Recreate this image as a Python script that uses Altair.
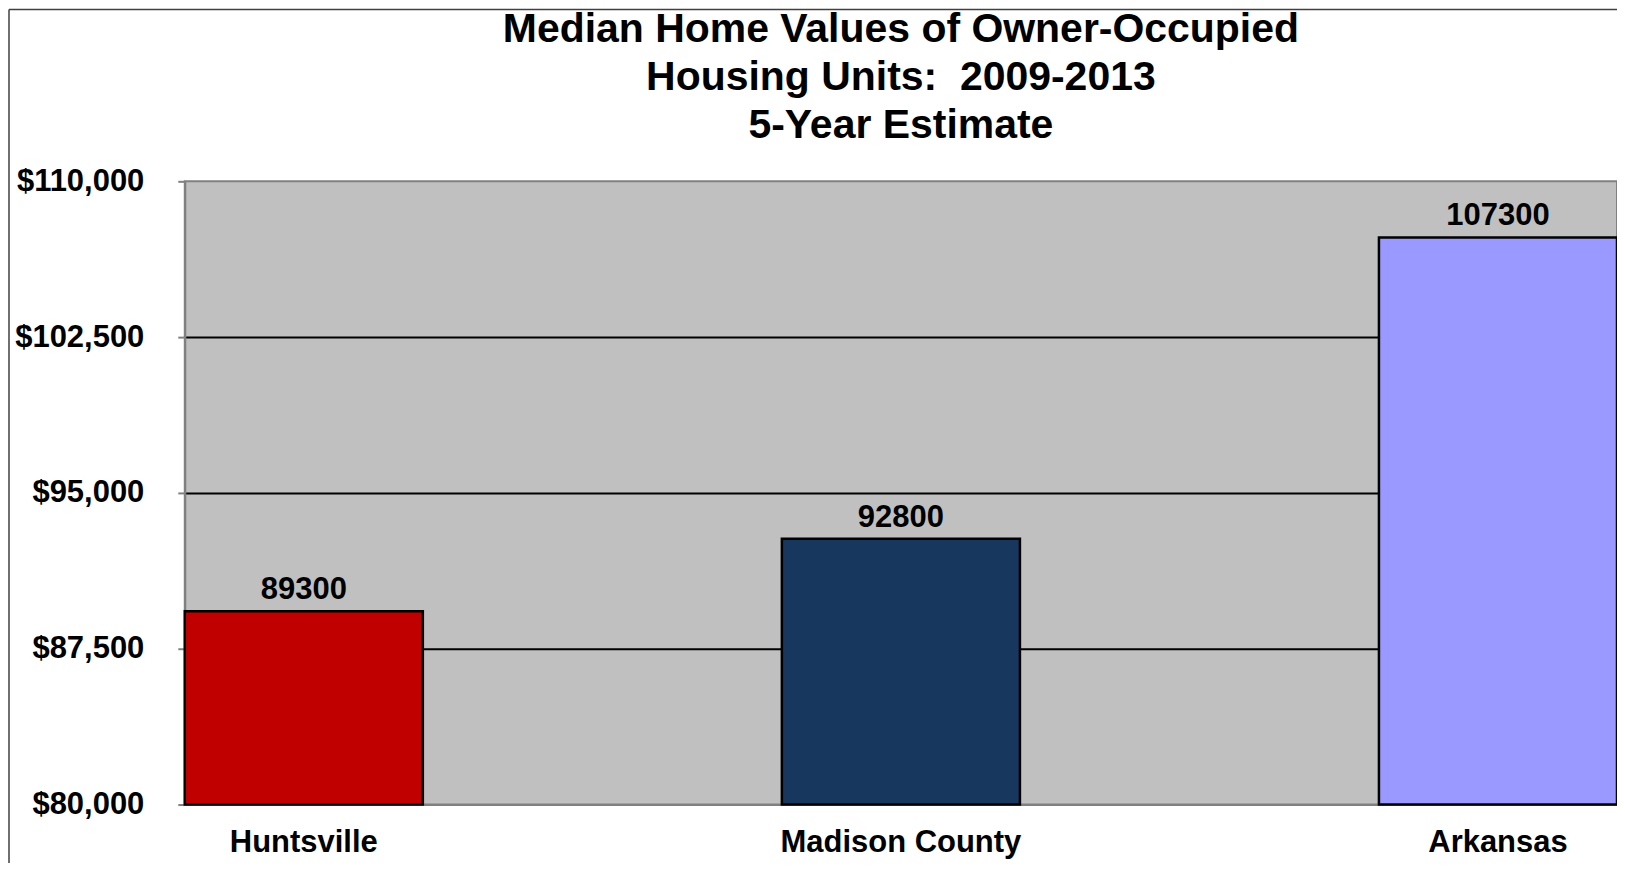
import altair as alt
import pandas as pd

categories = ["Huntsville", "Madison County", "Arkansas"]
values = [89300, 92800, 107300]
colors = ["#C00000", "#17375E", "#9999FF"]
y_ticks = [80000, 87500, 95000, 102500, 110000]
title_lines = ["Median Home Values of Owner-Occupied", "Housing Units:\u00a0 2009-2013", "5-Year Estimate"]

df = pd.DataFrame({"name": categories, "value": values})

FONT = "Liberation Sans"
W, H = 1434, 624

x_enc = alt.X(
    "name:N",
    sort=categories,
    scale=alt.Scale(paddingInner=0.6013, paddingOuter=0),
    axis=alt.Axis(
        title=None, labelAngle=0, labelFont=FONT, labelFontSize=31, labelFontWeight="bold",
        labelColor="black", tickSize=0, labelPadding=23, domainColor="#808080",
        domainWidth=2, grid=False, labelLimit=0,
    ),
)
y_scale = alt.Scale(domain=[80000, 110000], nice=False, zero=False)

bars = alt.Chart(df).mark_bar(stroke="black", strokeWidth=2.5).encode(
    x=x_enc,
    y=alt.Y(
        "value:Q",
        scale=y_scale,
        axis=alt.Axis(
            values=y_ticks, format="$,.0f", title=None, labelFont=FONT, labelFontSize=31,
            labelFontWeight="bold", labelColor="black", tickSize=7, tickWidth=2,
            tickColor="#808080", labelPadding=34, domainColor="#808080", domainWidth=2,
            grid=True, gridWidth=2, labelLimit=0,
            gridColor={"condition": {"test": "datum.value == 110000 || datum.value == 80000",
                                     "value": "transparent"}, "value": "black"},
        ),
    ),
    y2=alt.datum(80000),
    color=alt.Color("name:N", scale=alt.Scale(domain=categories, range=colors), legend=None),
)

labels = alt.Chart(df).mark_text(
    dy=-12, baseline="alphabetic", fontSize=31, fontWeight="bold", font=FONT, color="black"
).encode(
    x=alt.X("name:N", sort=categories),
    y=alt.Y("value:Q", scale=y_scale),
    text=alt.Text("value:Q", format="d"),
)

frame_df = pd.DataFrame({"k": [0]})
left_border = alt.Chart(frame_df).mark_rule(color="#404040", strokeWidth=1.5).encode(
    x=alt.value(-176), y=alt.value(-172), y2=alt.value(H + 60)
)
top_border = alt.Chart(frame_df).mark_rule(color="#404040", strokeWidth=1.5).encode(
    x=alt.value(-176), x2=alt.value(W + 2), y=alt.value(-172)
)

chart = alt.layer(bars, labels, left_border, top_border).properties(
    width=W,
    height=H,
    autosize=alt.AutoSizeParams(type="none"),
    padding={"left": 177, "top": 173, "right": 0, "bottom": 58},
    title=alt.Title(
        title_lines, fontSize=41, lineHeight=48, font=FONT, fontWeight="bold",
        color="black", anchor="middle", frame="group", offset=-138,
    ),
).configure(background="white").configure_view(fill="#C0C0C0", stroke="#808080", strokeWidth=2)

chart.save("out.html", embed_options={"renderer": "svg", "actions": False})
